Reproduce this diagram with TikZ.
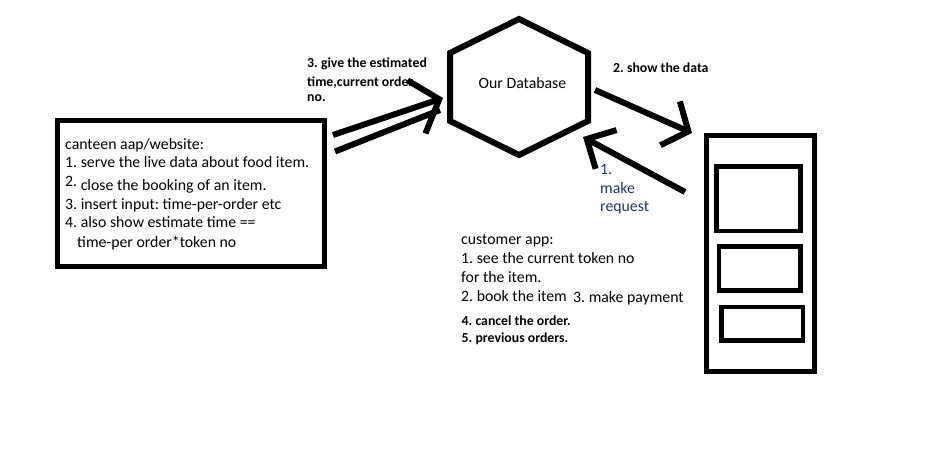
\documentclass[tikz,border=0pt]{standalone}
\usepackage{fontspec}
\setmainfont{Carlito}
\usepackage{xcolor}
\usepackage{tikz}
\usetikzlibrary{arrows.meta}
\frenchspacing
\definecolor{ink}{HTML}{000000}
\definecolor{navy}{HTML}{1F3864}
\tikzset{
  line/.style={draw=ink, line width=6pt},
  frame/.style={draw=ink, line width=5pt},
  phoneline/.style={draw=ink, line width=4.5pt},
  barb/.style={-{Straight Barb[length=20pt,width=48pt]}},
  lbl/.style={text=ink, font=\fontsize{15.8}{18}\selectfont, anchor=base west, inner sep=0pt},
  blbl/.style={text=ink, font=\fontsize{13.8}{16}\selectfont\bfseries, anchor=base west, inner sep=0pt},
  nlbl/.style={text=navy, font=\fontsize{15.8}{18}\selectfont, anchor=base west, inner sep=0pt}
}
\begin{document}
\begin{tikzpicture}[x=1pt,y=-1pt]
  \useasboundingbox[fill=white] (0,0) rectangle (932,460);

  % database
  \coordinate (dbT) at (519,19);
  \coordinate (dbUR) at (588,53);
  \coordinate (dbLR) at (588,121);
  \coordinate (dbB) at (519,155);
  \coordinate (dbLL) at (450,121);
  \coordinate (dbUL) at (450,53);
  \draw[line, line join=miter] (dbT)--(dbUR)--(dbLR)--(dbB)--(dbLL)--(dbUL)--cycle;
  \node[lbl, anchor=base] (db) at (522.5,88.5) {Our Database};

  % canteen app box
  \draw[frame] (57.5,120.5) rectangle (324,266.5);
  \node[lbl] (can0) at (65,149) {canteen aap/website:};
  \node[lbl] (can1) at (65,167.5) {1. serve the live data about food item.};
  \node[lbl] (can2) at (65,190) {\raisebox{4pt}{2.} close the booking of an item.};
  \node[lbl] (can3) at (65,209) {3. insert input: time-per-order etc};
  \node[lbl] (can4) at (65,227.5) {4. also show estimate time ==};
  \node[lbl] (can5) at (77,247) {time-per order*token no};

  % phone
  \draw[phoneline] (706.5,135.5) rectangle (814.5,371.5);
  \draw[phoneline] (716.5,166.5) rectangle (800.5,231);
  \draw[phoneline] (719,246.5) rectangle (800.5,290.5);
  \draw[phoneline] (721.5,307) rectangle (803,340.5);

  % customer app text
  \node[lbl] (cus0) at (461,244) {customer app:};
  \node[lbl] (cus1) at (461,263) {1. see the current token no};
  \node[lbl] (cus2) at (461,282) {for the item.};
  \node[lbl] (cus3) at (461,301) {2. book the item};
  \node[lbl] (pay) at (573,302.5) {3. make payment};
  \node[blbl] (cus4) at (461.5,325) {4. cancel the order.};
  \node[blbl] (cus5) at (461.5,342) {5. previous orders.};

  % connectors
  \coordinate (canA) at (333,135);
  \coordinate (canB) at (335,151.5);
  \coordinate (dbW) at (443,98);
  \coordinate (dbWb) at (440,110);
  \coordinate (dbE) at (595,90);
  \coordinate (phN) at (692,133);
  \coordinate (phW) at (685,192);
  \coordinate (dbSE) at (583,137);

  \draw[line, -{Straight Barb[length=24pt,width=56pt]}] (canA) -- (dbW);
  \draw[line] (canB) -- (dbWb);
  \draw[line, barb] (dbE) -- (phN);
  \draw[line, -{Straight Barb[length=22pt,width=44pt]}] (phW) -- (dbSE);

  \node[blbl] (give) at (307,67.5) {3. give the estimated};
  \node[blbl] (give2) at (307,86) {time,current order};
  \node[blbl] (give3) at (307,102) {no.};
  \node[blbl] (show) at (613,73) {2. show the data};
  \node[nlbl] (req1) at (600,174) {1.};
  \node[nlbl] (req2) at (600,193) {make};
  \node[nlbl] (req3) at (600,211.5) {request};
\end{tikzpicture}
\end{document}
